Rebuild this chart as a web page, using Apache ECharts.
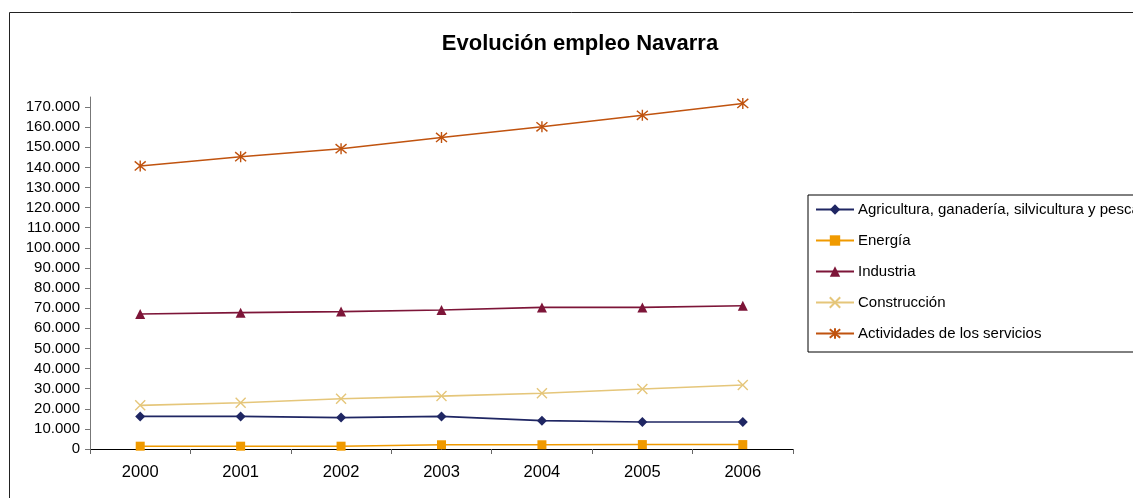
<!DOCTYPE html>
<html>
<head>
<meta charset="utf-8">
<script src="https://cdn.jsdelivr.net/npm/echarts@6/dist/echarts.min.js"></script>
<style>
html,body{margin:0;padding:0;background:#fff;}
#c{width:1133px;height:498px;}
</style>
</head>
<body>
<div id="c"></div>
<script>
const years = ['2000','2001','2002','2003','2004','2005','2006'];
const yTicks = [0,10000,20000,30000,40000,50000,60000,70000,80000,90000,100000,110000,120000,130000,140000,150000,160000,170000];
const seriesNames = ['Agricultura, ganadería, silvicultura y pesca','Energía','Industria','Construcción','Actividades de los servicios'];
const agricultura = [16200, 16200, 15600, 16200, 14100, 13400, 13400];
const energia = [1400, 1400, 1400, 2100, 2100, 2200, 2200];
const industria = [67100, 67800, 68300, 69100, 70400, 70400, 71200];
const construccion = [21700, 23000, 25000, 26300, 27700, 29800, 31800];
const servicios = [140700, 145300, 149300, 154900, 160200, 165900, 171800];

const colors = ['#1F2663', '#F09A00', '#7D1538', '#E5C67A', '#C0530F'];
const symbols = ['diamond', 'rect', 'triangle', 'path://M0,0L10,10M10,0L0,10', 'path://M0,0L10,10M10,0L0,10M5,-1L5,11'];
const sizes = [10, 9, 10, 10, 11];
const datas = [agricultura, energia, industria, construccion, servicios];

function fmt(v){ return String(v).replace(/\B(?=(\d{3})+(?!\d))/g, '.'); }

const font = 'Arial, "Liberation Sans", sans-serif';
const chart = echarts.init(document.getElementById('c'));
chart.setOption({
  animation: false,
  backgroundColor: '#fff',
  title: {
    text: 'Evolución empleo Navarra',
    left: 575, textAlign: 'center', top: 28,
    textStyle: {fontFamily: font, fontSize: 22, fontWeight: 'bold', color: '#000'}
  },
  graphic: [{
    type: 'rect', shape: {x: 9.5, y: 12.5, width: 1300, height: 700},
    style: {fill: 'none', stroke: '#222', lineWidth: 1}, z: -1
  }],
  legend: {
    orient: 'vertical', left: 808, top: 195,
    padding: [7, 200, 11, 7],
    itemGap: 16, itemWidth: 38, itemHeight: 13,
    borderColor: '#000', borderWidth: 1,
    textStyle: {fontFamily: font, fontSize: 15, color: '#000', padding: [0,0,0,-1]},
    data: seriesNames
  },
  grid: {left: 90, right: 340, top: 97, bottom: 49, containLabel: false},
  xAxis: {
    type: 'category', data: years, boundaryGap: true,
    axisLine: {lineStyle: {color: '#000', width: 1}},
    axisTick: {show: true, length: 5, lineStyle: {color: '#666'}},
    axisLabel: {fontFamily: font, fontSize: 16.5, color: '#000', margin: 15},
    splitLine: {show: false}
  },
  yAxis: {
    type: 'value', min: 0, max: 175000, interval: 10000,
    axisLine: {show: true, lineStyle: {color: '#777', width: 1}},
    axisTick: {show: true, length: 5, lineStyle: {color: '#777'}, customValues: yTicks},
    axisLabel: {fontFamily: font, fontSize: 15, color: '#000', margin: 10, formatter: fmt, customValues: yTicks},
    splitLine: {show: false}
  },
  series: datas.map((d, i) => ({
    name: seriesNames[i], type: 'line', data: d,
    symbol: symbols[i], symbolSize: sizes[i], showSymbol: true,
    lineStyle: {color: colors[i], width: 1.6},
    itemStyle: {color: colors[i], borderColor: colors[i], borderWidth: i >= 3 ? 1.4 : 0},
    emphasis: {disabled: true}
  }))
});
</script>
</body>
</html>
